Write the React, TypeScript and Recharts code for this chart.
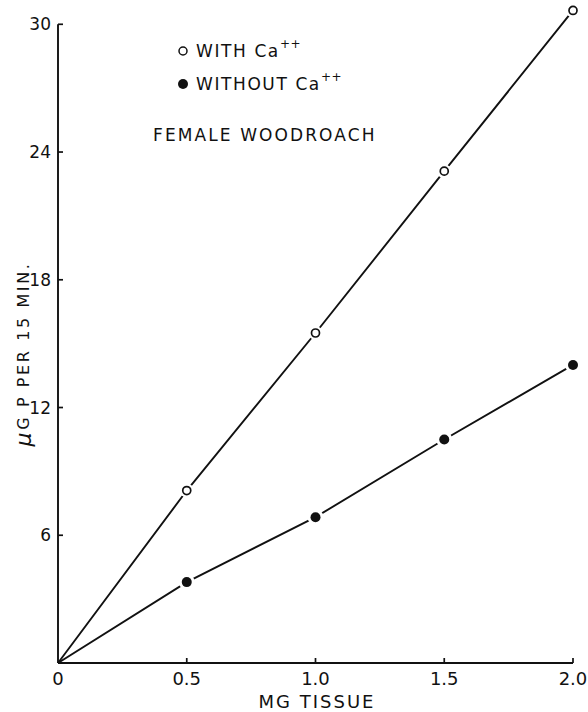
import { LineChart, Line, XAxis, YAxis, ReferenceLine, Customized } from 'recharts'

// mg of tissue vs. µg P released per 15 min, female woodroach
const mgTissue = [0, 0.5, 1.0, 1.5, 2.0]
const withCa = [0, 8.1, 15.5, 23.1, 30.65]
const withoutCa = [0, 3.8, 6.85, 10.5, 14.0]

const xTicks = [0, 0.5, 1.0, 1.5, 2.0]
const xTickLabels = ['0', '0.5', '1.0', '1.5', '2.0']
const yTicks = [6, 12, 18, 24, 30]

const data = mgTissue.map((mg, i) => ({ mg, withCa: withCa[i], withoutCa: withoutCa[i] }))

const INK = '#111'
const FONT = '"DejaVu Sans", sans-serif'

function OpenDot({ cx, cy, payload, index }: any) {
    if (payload.mg === 0) return <g key={`o-${index}`} />
    return (
        <g key={`o-${index}`}>
            <circle cx={cx} cy={cy} r={7} fill="#fff" />
            <circle cx={cx} cy={cy} r={4} fill="#fff" stroke={INK} strokeWidth={1.7} />
        </g>
    )
}

function FilledDot({ cx, cy, payload, index }: any) {
    if (payload.mg === 0) return <g key={`f-${index}`} />
    return (
        <g key={`f-${index}`}>
            <circle cx={cx} cy={cy} r={8} fill="#fff" />
            <circle cx={cx} cy={cy} r={5} fill={INK} />
        </g>
    )
}

// ticks point into the plot, labels sit outside
function YTick({ x, y, payload }: any) {
    return (
        <g>
            <line x1={x} x2={x + 5} y1={y} y2={y} stroke={INK} strokeWidth={1.7} />
            <text x={x - 7} y={y} textAnchor="end" dominantBaseline="central"
                fontSize={17} fontFamily={FONT} fill={INK}>
                {payload.value}
            </text>
        </g>
    )
}

function XTick({ x, y, payload, index }: any) {
    return (
        <g>
            {payload.value !== 0 && (
                <line x1={x} x2={x} y1={y} y2={y - 5} stroke={INK} strokeWidth={1.7} />
            )}
            <text x={x} y={y + 15} textAnchor="middle" dominantBaseline="central"
                fontSize={18} fontFamily={FONT} fill={INK}>
                {xTickLabels[index]}
            </text>
        </g>
    )
}

function Notes() {
    const txt = { fontSize: 17, fontFamily: FONT, fill: INK, letterSpacing: 1.6 }
    return (
        <g>
            <circle cx={183} cy={51} r={4} fill="#fff" stroke={INK} strokeWidth={1.5} />
            <text x={196} y={51} dominantBaseline="central" {...txt}>
                WITH Ca<tspan dy={-7} fontSize={12} letterSpacing={0.5}>++</tspan>
            </text>
            <circle cx={183} cy={84} r={5} fill={INK} />
            <text x={196} y={84} dominantBaseline="central" {...txt}>
                WITHOUT Ca<tspan dy={-7} fontSize={12} letterSpacing={0.5}>++</tspan>
            </text>
            <text x={153} y={135} dominantBaseline="central" {...txt} letterSpacing={2.1}>
                FEMALE WOODROACH
            </text>
            <text x={317} y={701} textAnchor="middle" dominantBaseline="central"
                {...txt} fontSize={18} letterSpacing={2}>
                MG TISSUE
            </text>
            <text transform="translate(23 354) rotate(-90)" textAnchor="middle"
                dominantBaseline="central" {...txt} fontSize={16} letterSpacing={2.6}>
                <tspan fontSize={22} fontStyle="italic">μ</tspan>G P PER 15 MIN.
            </text>
        </g>
    )
}

export default function App() {
    return (
        <div style={{ position: 'absolute', left: 0, top: 0, background: '#fff' }}>
            <LineChart width={588} height={712} data={data}
                margin={{ top: 3, right: 15, left: 0, bottom: 0 }}>
                <XAxis dataKey="mg" type="number" domain={[0, 2]} ticks={xTicks}
                    height={49} tickSize={0} tickMargin={0} tickLine={false}
                    axisLine={{ stroke: INK, strokeWidth: 1.9 }} tick={<XTick />}
                    interval={0} />
                <YAxis type="number" domain={[0, 31]} ticks={yTicks} width={58}
                    tickSize={0} tickMargin={0} tickLine={false} axisLine={false}
                    tick={<YTick />} interval={0} />
                <ReferenceLine segment={[{ x: 0, y: 0 }, { x: 0, y: 30 }]}
                    stroke={INK} strokeWidth={1.9} />
                <Line dataKey="withCa" type="linear" stroke={INK} strokeWidth={1.9}
                    dot={OpenDot} activeDot={false} isAnimationActive={false} />
                <Line dataKey="withoutCa" type="linear" stroke={INK} strokeWidth={1.9}
                    dot={FilledDot} activeDot={false} isAnimationActive={false} />
                <Customized component={Notes} />
            </LineChart>
        </div>
    )
}
